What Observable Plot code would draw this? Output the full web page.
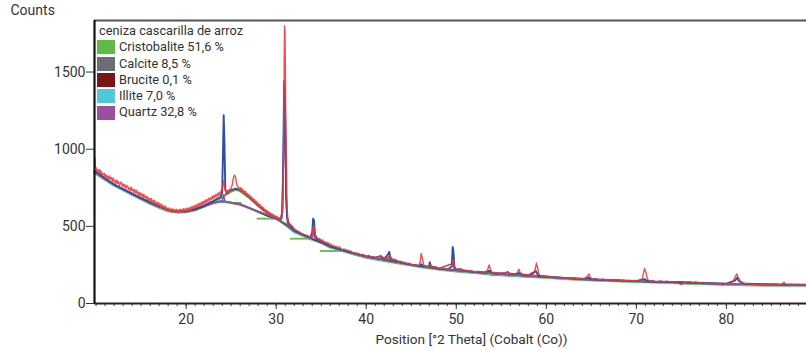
<!DOCTYPE html>
<html>
<head>
<meta charset="utf-8">
<script src="https://cdn.jsdelivr.net/npm/d3@7"></script>
<script src="https://cdn.jsdelivr.net/npm/@observablehq/plot@0.6"></script>
<style>
  html, body { margin: 0; padding: 0; background: #fff; }
  #wrap { position: relative; width: 806px; height: 351px; font-family: Roboto, "Noto Sans", sans-serif; color: #333; }
  #legend { position: absolute; left: 97px; top: 23px; font-size: 12.8px; line-height: 16.3px; color: #333; }
  #legend .title { margin-left: 2px; }
  #legend .row { display: flex; align-items: center; height: 16.3px; }
  #legend .sw { width: 18px; height: 14px; margin-right: 4px; }
</style>
</head>
<body>
<div id="wrap"></div>
<script>
// ---- axes ----
const xDomain = [9.82, 88.9];
const yDomain = [0, 1834];
const xMajorTicks = [20, 30, 40, 50, 60, 70, 80];
const xMinorTicks = d3.range(10, 89);
const yTicks = [0, 500, 1000, 1500];
const yLabel = "Counts";
const xLabel = "Position [°2 Theta] (Cobalt (Co))";

// ---- legend ----
const legendTitle = "ceniza cascarilla de arroz";
const phaseNames = ["Cristobalite 51,6 %", "Calcite 8,5 %", "Brucite 0,1 %", "Illite 7,0 %", "Quartz 32,8 %"];
const phaseColors = ["#5dbb46", "#6d6e71", "#7b1416", "#4fc8d8", "#9b4f9f"];
const observedColor = "#f23a3a";
const calculatedColor = "#2b4fa6";
const backgroundColor = "#3a2a2a";

// ---- observed pattern (red) [2θ, counts] ----
const observed = [[9.82,915],[9.86,945],[9.9,900],[9.95,878],[10.0,880],[10.1,858],[10.2,868],[10.3,845],[10.4,869],[10.5,844],[10.6,854],[10.7,829],[10.8,839],[10.9,844],[11.0,818],[11.1,835],[11.2,814],[11.3,826],[11.4,803],[11.5,826],[11.6,806],[11.7,815],[11.8,791],[11.9,814],[12.0,788],[12.1,799],[12.2,778],[12.3,800],[12.4,779],[12.5,790],[12.6,765],[12.7,780],[12.8,787],[12.9,760],[13.0,775],[13.1,756],[13.2,771],[13.3,746],[13.4,761],[13.5,764],[13.6,739],[13.7,750],[13.8,729],[13.9,754],[14.0,731],[14.1,742],[14.2,719],[14.3,738],[14.4,717],[14.5,734],[14.6,709],[14.7,721],[14.8,700],[14.9,718],[15.0,697],[15.1,710],[15.2,685],[15.3,708],[15.4,687],[15.5,696],[15.6,675],[15.7,693],[15.8,670],[15.9,681],[16.0,660],[16.1,683],[16.2,660],[16.3,670],[16.4,649],[16.5,668],[16.6,645],[16.7,656],[16.8,636],[16.9,657],[17.0,634],[17.1,647],[17.2,624],[17.3,642],[17.4,621],[17.5,632],[17.6,611],[17.7,632],[17.8,609],[17.9,619],[18.0,600],[18.1,620],[18.2,599],[18.3,613],[18.4,593],[18.5,614],[18.6,593],[18.7,606],[18.8,589],[18.9,611],[19.0,592],[19.1,606],[19.2,587],[19.3,611],[19.4,594],[19.5,610],[19.6,593],[19.7,614],[19.8,597],[19.9,614],[20.0,597],[20.1,619],[20.2,603],[20.3,619],[20.4,602],[20.5,626],[20.6,608],[20.7,629],[20.8,615],[20.9,636],[21.0,618],[21.1,639],[21.2,626],[21.3,646],[21.4,627],[21.5,650],[21.6,637],[21.7,658],[21.8,640],[21.9,661],[22.0,648],[22.1,669],[22.2,652],[22.3,674],[22.4,661],[22.5,682],[22.6,665],[22.7,686],[22.8,674],[22.9,695],[23.0,678],[23.1,701],[23.2,686],[23.3,706],[23.4,691],[23.5,714],[23.6,700],[23.7,721],[23.8,711],[23.9,732],[24.0,745],[24.08,770],[24.15,795],[24.22,770],[24.3,742],[24.4,722],[24.5,712],[24.6,734],[24.7,718],[24.8,740],[24.9,728],[25.0,752],[25.1,765],[25.2,800],[25.3,826],[25.4,832],[25.5,815],[25.6,778],[25.7,760],[25.8,752],[25.9,738],[26.0,752],[26.1,732],[26.2,746],[26.3,718],[26.4,734],[26.5,712],[26.6,726],[26.7,700],[26.8,714],[26.9,690],[27.0,706],[27.1,680],[27.2,694],[27.3,666],[27.4,684],[27.5,660],[27.6,674],[27.7,648],[27.8,662],[27.9,636],[28.0,652],[28.1,626],[28.2,640],[28.3,616],[28.4,630],[28.5,606],[28.6,620],[28.7,598],[28.8,610],[28.9,588],[29.0,602],[29.1,582],[29.2,594],[29.3,574],[29.4,586],[29.5,568],[29.6,580],[29.7,562],[29.8,572],[29.9,556],[30.0,566],[30.1,550],[30.2,560],[30.3,544],[30.4,554],[30.5,545],[30.65,560],[30.75,700],[30.85,1200],[30.92,1800],[30.98,1760],[31.05,1300],[31.12,980],[31.2,640],[31.3,540],[31.4,522],[31.5,515],[31.6,512],[31.7,505],[31.8,502],[31.9,490],[32.0,486],[32.1,478],[32.3,474],[32.45,466],[32.6,464],[32.75,456],[32.9,452],[33.05,448],[33.2,446],[33.35,440],[33.5,440],[33.65,432],[33.8,432],[34.0,442],[34.15,505],[34.25,480],[34.4,425],[34.55,428],[34.7,418],[34.85,420],[35.0,408],[35.15,412],[35.3,396],[35.45,400],[35.6,392],[35.75,394],[35.9,380],[36.05,386],[36.2,378],[36.35,376],[36.5,368],[36.65,372],[36.8,360],[36.95,368],[37.1,362],[37.25,352],[37.4,350],[37.55,354],[37.7,345],[37.85,348],[38.0,340],[38.15,342],[38.3,338],[38.45,330],[38.6,330],[38.75,328],[38.9,324],[39.05,326],[39.2,322],[39.35,316],[39.5,315],[39.65,318],[39.8,312],[39.95,306],[40.1,305],[40.25,312],[40.4,308],[40.55,302],[40.7,300],[40.85,304],[41.0,298],[41.15,296],[41.3,300],[41.45,305],[41.6,312],[41.75,304],[41.9,298],[42.05,294],[42.2,290],[42.35,296],[42.5,305],[42.65,310],[42.8,292],[42.95,284],[43.1,280],[43.25,284],[43.4,278],[43.55,272],[43.7,270],[43.85,274],[44.0,265],[44.15,266],[44.3,262],[44.45,260],[44.6,258],[44.75,262],[44.9,252],[45.05,254],[45.2,250],[45.35,252],[45.5,246],[45.65,248],[45.8,245],[46.0,270],[46.1,325],[46.25,290],[46.4,245],[46.55,246],[46.7,240],[46.85,238],[47.0,242],[47.1,250],[47.3,238],[47.45,240],[47.6,232],[47.75,236],[47.9,230],[48.05,232],[48.2,228],[48.35,226],[48.5,225],[48.65,230],[48.8,222],[48.95,224],[49.1,222],[49.25,226],[49.4,228],[49.55,260],[49.65,285],[49.8,240],[50.0,222],[50.15,220],[50.3,218],[50.5,225],[50.7,216],[50.85,218],[51.0,212],[51.2,214],[51.4,210],[51.6,212],[51.8,208],[52.0,206],[52.2,205],[52.4,210],[52.6,206],[52.8,204],[53.0,202],[53.2,206],[53.4,205],[53.65,250],[53.8,220],[54.0,200],[54.2,202],[54.4,198],[54.6,200],[54.8,196],[55.0,198],[55.2,196],[55.4,198],[55.6,200],[55.9,195],[56.1,192],[56.3,188],[56.5,190],[56.7,192],[56.95,222],[57.1,200],[57.3,190],[57.5,186],[57.7,188],[57.9,185],[58.1,186],[58.3,182],[58.6,190],[58.8,230],[58.9,262],[59.0,240],[59.2,190],[59.35,180],[59.5,178],[59.7,180],[59.9,176],[60.1,178],[60.3,172],[60.5,174],[60.7,170],[60.9,172],[61.1,168],[61.3,166],[61.5,170],[61.7,168],[61.9,165],[62.1,166],[62.3,163],[62.5,165],[62.7,166],[62.9,164],[63.1,162],[63.3,164],[63.5,160],[63.7,161],[63.9,162],[64.1,159],[64.3,160],[64.6,180],[64.75,192],[64.9,168],[65.05,160],[65.2,158],[65.4,160],[65.6,160],[65.8,156],[66.0,155],[66.2,158],[66.4,157],[66.6,153],[66.8,152],[67.0,156],[67.2,154],[67.4,150],[67.6,150],[67.8,154],[68.0,152],[68.2,148],[68.4,149],[68.6,152],[68.8,148],[69.0,147],[69.2,150],[69.4,147],[69.6,146],[69.8,150],[70.0,148],[70.2,145],[70.4,146],[70.55,152],[70.7,170],[70.9,226],[71.05,205],[71.25,155],[71.4,150],[71.6,146],[71.8,148],[72.0,145],[72.2,143],[72.4,142],[72.6,146],[72.8,144],[73.0,140],[73.2,140],[73.4,144],[73.6,142],[73.8,139],[74.0,138],[74.2,142],[74.4,140],[74.6,136],[74.8,128],[75.0,122],[75.2,130],[75.4,136],[75.6,138],[75.8,142],[76.0,140],[76.2,136],[76.4,135],[76.6,140],[76.8,136],[77.0,132],[77.2,133],[77.4,137],[77.6,134],[77.8,130],[78.0,131],[78.2,134],[78.4,132],[78.6,128],[78.8,129],[79.0,131],[79.2,128],[79.4,126],[79.6,120],[79.8,126],[80.0,129],[80.2,130],[80.5,128],[80.8,150],[81.0,175],[81.15,192],[81.3,172],[81.5,150],[81.65,140],[81.8,135],[82.0,130],[82.2,127],[82.4,130],[82.6,128],[82.8,124],[83.0,125],[83.2,128],[83.4,124],[83.6,122],[83.8,126],[84.0,124],[84.2,122],[84.4,120],[84.6,124],[84.8,126],[85.0,122],[85.2,120],[85.4,125],[85.6,126],[85.8,123],[86.0,121],[86.2,126],[86.4,138],[86.6,124],[86.8,121],[87.0,122],[87.2,125],[87.4,123],[87.6,120],[87.8,121],[88.0,124],[88.2,122],[88.4,119],[88.6,120],[88.8,123],[89.0,121]];

// ---- calculated profile (blue) ----
const calculated = [[9.82,860],[10.5,835],[11,812],[12,772],[13,742],[14,712],[15,683],[16,656],[17,630],[18,608],[19,597],[20,598],[21,612],[22,636],[23,664],[23.8,690],[24.0,720],[24.1,1000],[24.17,1220],[24.25,1050],[24.35,740],[24.5,712],[25,735],[25.5,745],[26,735],[26.5,715],[27,690],[27.5,664],[28,638],[28.5,612],[29,590],[29.5,572],[30,558],[30.5,545],[30.7,600],[30.8,1000],[30.88,1440],[30.95,1400],[31.02,1100],[31.1,700],[31.2,560],[31.4,520],[32,475],[33,445],[33.8,428],[34.0,460],[34.1,550],[34.2,540],[34.3,450],[34.5,420],[35,405],[36,372],[37,352],[38,337],[39,320],[40,307],[41,297],[41.5,305],[41.7,300],[42,290],[42.45,320],[42.55,334],[42.7,295],[43,280],[44,266],[45,252],[46,243],[46.1,255],[46.3,242],[47,240],[47.05,268],[47.2,240],[48,228],[49,220],[49.5,240],[49.6,366],[49.68,340],[49.8,235],[50,220],[50.5,222],[50.8,214],[52,206],[53,201],[53.7,212],[54,198],[55,194],[55.5,198],[55.7,204],[55.9,195],[56.5,190],[57,198],[57.3,186],[58,182],[58.85,210],[59.1,180],[60,175],[62,166],[64,160],[64.7,168],[65,158],[66,155],[68,150],[70,146],[70.9,158],[71.2,146],[72,143],[74,139],[76,136],[78,132],[80,129],[81.0,150],[81.2,168],[81.4,145],[82,128],[84,125],[86,124],[89,122]];

// ---- phase profiles ----
const cristobalite = [[9.82,848],[11,803],[12,766],[13,736],[14,706],[15,676],[16,648],[17,622],[18,600],[19,591],[20,593],[21,606],[22,630],[23,658],[24,690],[25,728],[25.5,738],[26,730],[27,686],[28,634],[29,588],[30,552],[31,515],[32,465],[33,438],[34,414],[35,396],[36,364],[38,330],[40,298],[42,278],[44,258],[46,238],[48,222],[50,210],[52,200],[54,190],[56,181],[58,174],[60,168],[62,161],[64,155],[66,150],[68,146],[70,142],[72,138],[74,134],[76,130],[78,127],[80,123],[82,121],[84,119],[86,118],[89,117]];
const cristobaliteSteps = [[23.3,24.6,660],[25.0,26.2,652],[27.9,30.1,550],[31.6,33.8,420],[34.9,37.9,340],[46.0,47.9,237],[53.8,56.4,183],[66.0,68.3,151]];
const calcite = [[9.82,852],[12,770],[14,710],[16,653],[18,605],[20,596],[22,632],[24,665],[26,645],[28,598],[30,552],[32,468],[33.8,428],[34.05,470],[34.18,520],[34.3,440],[34.6,415],[36,370],[38,335],[40,304],[42,284],[43.2,285],[43.4,275],[44,263],[47,232],[47.5,236],[48,226],[52,205],[56,186],[57.5,190],[58,180],[60,173],[64,158],[68,148],[72,141],[76,134],[80,127],[84,123],[89,120]];
const brucite = [[9.82,855],[12,770],[14,710],[16,652],[18,604],[19,596],[20,596],[21,608],[22,628],[23,655],[24,662],[25,655],[26,642],[27,620],[28,592],[29,568],[30,548],[31,515],[32,470],[34,418],[36,368],[38,334],[40,303],[42,283],[44,262],[46,241],[48,225],[52,204],[56,186],[60,171],[64,157],[68,147],[72,140],[76,133],[80,126],[84,122],[89,119]];
const illite = [[9.82,848],[11,806],[12,768],[14,708],[16,650],[18,602],[19,594],[20,595],[22,628],[23,652],[24,660],[25,652],[26,640],[27,618],[28,595],[29,570],[30,550],[31,512],[32,464],[33,440],[34,418],[35,398],[36,366],[38,332],[40,302],[42,282],[44,260],[46,240],[48,224],[50,212],[52,202],[54,192],[56,182],[58,176],[60,170],[62,162],[64,156],[66,150],[68,146],[70,142],[72,139],[74,134],[76,131],[78,128],[80,124],[82,121],[84,119],[86,117],[89,117]];
const quartz = [[9.82,850],[12,770],[14,710],[16,652],[18,605],[20,596],[22,630],[23.5,660],[24.0,665],[24.1,690],[24.15,705],[24.3,662],[25,650],[26,640],[27,618],[28,595],[29,575],[30,552],[30.6,545],[30.8,900],[30.9,1340],[30.98,1300],[31.1,700],[31.25,520],[32,470],[34,425],[34.15,470],[34.3,420],[36,368],[38,334],[40,304],[42,284],[42.55,300],[42.7,282],[44,263],[46,241],[48,225],[49.6,260],[49.8,218],[52,204],[56,186],[60,172],[64,158],[68,148],[72,141],[76,134],[80,127],[84,123],[89,120]];

const X = d => d[0], Y = d => d[1];

const chart = Plot.plot({
  width: 806,
  height: 351,
  marginLeft: 94,
  marginRight: 0,
  marginTop: 20,
  marginBottom: 48,
  style: { fontFamily: "Roboto, 'Noto Sans', sans-serif", color: "#333", background: "white", overflow: "visible" },
  x: { domain: xDomain, label: null },
  y: { domain: yDomain, label: null },
  marks: [
    Plot.ruleY(cristobaliteSteps, { x1: d => d[0], x2: d => d[1], y: d => d[2], stroke: phaseColors[0], strokeWidth: 1.8 }),
    Plot.line(cristobalite, { x: X, y: Y, stroke: phaseColors[0], strokeWidth: 2.6 }),
    Plot.line(illite, { x: X, y: Y, stroke: phaseColors[3], strokeWidth: 2 }),
    Plot.line(brucite, { x: X, y: Y, stroke: backgroundColor, strokeWidth: 1.3 }),
    Plot.line(calcite, { x: X, y: Y, stroke: phaseColors[1], strokeWidth: 1.5 }),
    Plot.line(quartz, { x: X, y: Y, stroke: phaseColors[4], strokeWidth: 1.6 }),
    Plot.line(calculated, { x: X, y: Y, stroke: calculatedColor, strokeWidth: 1.9 }),
    Plot.line(observed, { x: X, y: Y, stroke: observedColor, strokeWidth: 1.4, strokeOpacity: 0.9 }),
    // frame lines
    Plot.ruleY([yDomain[1]], { stroke: "#555", strokeWidth: 2.2 }),
    Plot.ruleX([xDomain[0]], { stroke: "#111", strokeWidth: 2.2 }),
    Plot.ruleY([yDomain[0]], { stroke: "#222", strokeWidth: 2.2 }),
    // axes
    Plot.axisY({ ticks: yTicks, tickSize: 8, tickPadding: 1, fontSize: 14, tickFormat: d => String(d), label: null, stroke: "#333" }),
    Plot.axisX({ ticks: xMinorTicks, tickSize: 3, tickFormat: () => "", label: null, stroke: "#333" }),
    Plot.axisX({ ticks: xMajorTicks, tickSize: 6, tickPadding: 5, fontSize: 14, tickFormat: d => String(d), label: null, stroke: "#333" }),
    Plot.text([yLabel], { frameAnchor: "top-left", dx: -84, dy: -6, textAnchor: "start", lineAnchor: "bottom", fontSize: 14, fill: "#333" }),
    Plot.text([xLabel], { frameAnchor: "bottom", dx: 21, dy: 36, lineAnchor: "middle", fontSize: 13.6, fill: "#333" })
  ]
});

const wrap = document.getElementById("wrap");
wrap.appendChild(chart);

const legend = document.createElement("div");
legend.id = "legend";
const t = document.createElement("div");
t.className = "title";
t.textContent = legendTitle;
legend.appendChild(t);
phaseNames.forEach((name, i) => {
  const row = document.createElement("div");
  row.className = "row";
  const sw = document.createElement("div");
  sw.className = "sw";
  sw.style.background = phaseColors[i];
  const lab = document.createElement("span");
  lab.textContent = name;
  row.appendChild(sw);
  row.appendChild(lab);
  legend.appendChild(row);
});
wrap.appendChild(legend);
</script>
</body>
</html>
